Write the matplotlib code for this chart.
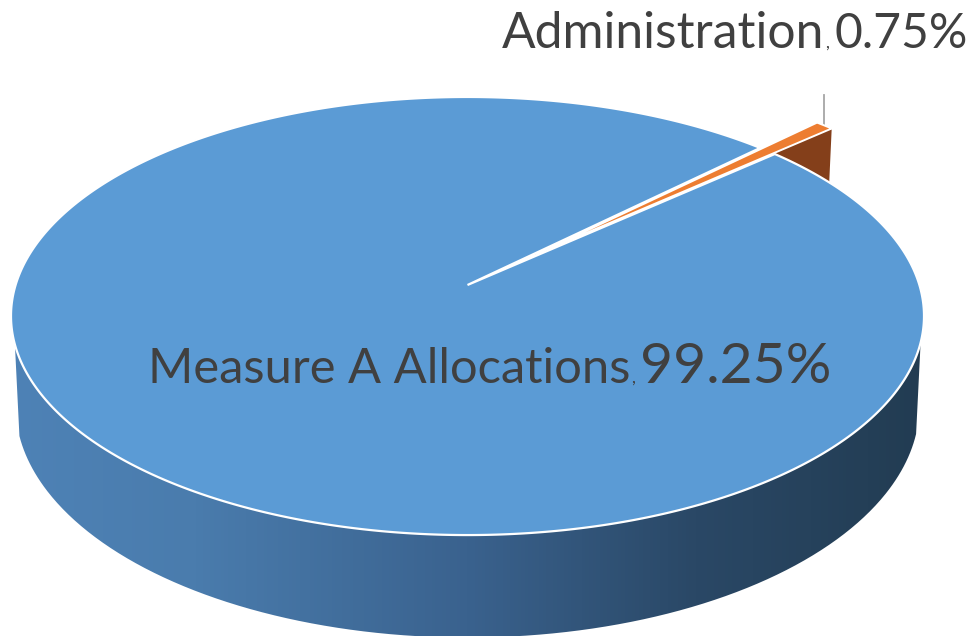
import numpy as np
import matplotlib
matplotlib.use("Agg")
import matplotlib.pyplot as plt
from matplotlib.patches import Polygon, PathPatch
from matplotlib.path import Path
from matplotlib.colors import LinearSegmentedColormap

categories = ["Measure A Allocations", "Administration"]
values = [99.25, 0.75]
colors = ["#5B9BD5", "#ED7D31"]
side_color = "#843F1A"

W, H = 973, 636
fig = plt.figure(figsize=(W / 100, H / 100), dpi=100)
ax = fig.add_axes([0, 0, 1, 1])
ax.set_xlim(0, W)
ax.set_ylim(H, 0)
ax.axis("off")

# perspective projection of the unit disc onto the picture
CX, CY, A, C, K, DEPTH, SHRINK = 467.5, 285.0, -174.3, 0.1416, 451.9, 88.0, 0.99


def project(u, v, lower=False):
    u, v = np.asarray(u, float), np.asarray(v, float)
    w = 1 + C * v
    x = K * u / w
    y = (A * v + CY) / w
    if lower:
        return np.column_stack([CX + x * SHRINK, y + DEPTH / w])
    return np.column_stack([CX + x, y])


def arc(a0, a1, n=400):
    t = np.radians(np.linspace(a0, a1, n))
    return np.cos(t), np.sin(t)


# slice angles follow from the values
start = 44.6
sweep_blue = 360 * values[0] / sum(values)
sweep_orange = 360 * values[1] / sum(values)
blue_a0, blue_a1 = start, start + sweep_blue
or_a0, or_a1 = start - sweep_orange, start
mid = np.radians((or_a0 + or_a1) / 2)
EXPLODE = 0.212
ox, oy = EXPLODE * np.cos(mid), EXPLODE * np.sin(mid)

# side wall with horizontal gradient
u, v = arc(195.5, 345)
top_edge = project(u, v)
bot_edge = project(u[::-1], v[::-1], lower=True)
wall = np.vstack([top_edge, bot_edge])
cmap = LinearSegmentedColormap.from_list(
    "wall", [(0, "#4E82B6"), (0.2, "#4A7CAD"), (0.5, "#3A628E"), (0.75, "#2A4866"), (1, "#223C52")])
im = ax.imshow(np.linspace(0, 1, 256).reshape(1, -1), cmap=cmap, aspect="auto",
               extent=[10, 925, H, 0], zorder=1)
im.set_clip_path(PathPatch(Path(np.vstack([wall, wall[:1]])), transform=ax.transData))
ax.set_xlim(0, W)
ax.set_ylim(H, 0)

# cut face of the pulled-out slice
e_top = project([ox, ox + np.cos(np.radians(or_a0))], [oy, oy + np.sin(np.radians(or_a0))])
e_bot = project([ox + np.cos(np.radians(or_a0)), ox], [oy + np.sin(np.radians(or_a0)), oy], lower=True)
ax.add_patch(Polygon(np.vstack([e_top, e_bot]), closed=True, fc=side_color, ec="none", zorder=2))

# main slice top
u, v = arc(blue_a0, blue_a1, 800)
blue_top = np.vstack([project([0], [0]), project(u, v)])
ax.add_patch(Polygon(blue_top, closed=True, fc=colors[0], ec="white", lw=1.6, joinstyle="miter", zorder=3))

# pulled-out slice top
u, v = arc(or_a0, or_a1, 30)
or_top = np.vstack([project([ox], [oy]), project(u + ox, v + oy)])
ax.add_patch(Polygon(or_top, closed=True, fc=colors[1], ec="white", lw=1.4, joinstyle="miter", zorder=4))

# leader line
ax.plot([823.5, 823.5], [95, 125], color="#A6A6A6", lw=1.3, zorder=2)

FONT = "Lato"
TXT = "#404040"


def label(x, y, name, value, name_size, value_size):
    t1 = ax.text(x, y, name, fontsize=name_size, color=TXT, family=FONT, va="baseline", ha="left", zorder=6)
    r = fig.canvas.get_renderer()
    x1 = t1.get_window_extent(r).x1
    t2 = ax.text(x1 + 1, y, ",", fontsize=name_size * 0.35, color=TXT, family=FONT, va="baseline", ha="left", zorder=6)
    x2 = t2.get_window_extent(r).x1
    ax.text(x2 + 5, y, f"{value:.2f}%", fontsize=value_size, color=TXT, family=FONT, va="baseline", ha="left", zorder=6)


label(148, 383, categories[0], values[0], 35.2, 41)
label(502, 48, categories[1], values[1], 35.8, 34.6)

fig.savefig("out.png", dpi=100)
